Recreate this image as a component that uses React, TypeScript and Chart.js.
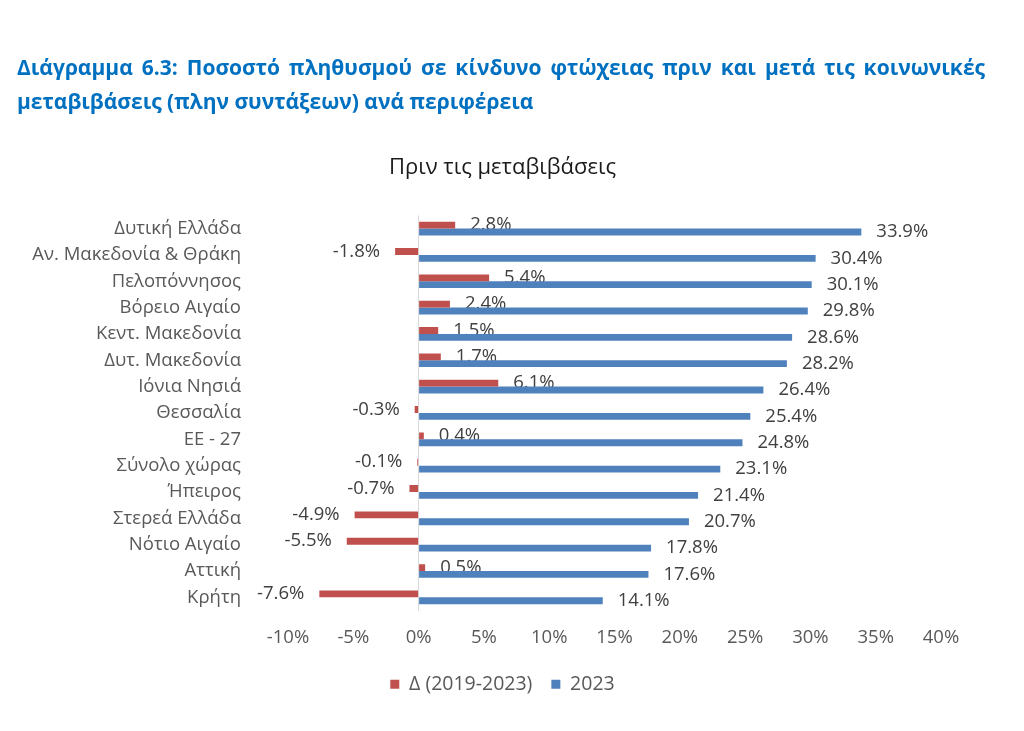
import React, { useEffect, useRef } from 'react';
import { Chart, registerables } from 'chart.js';

Chart.register(...registerables);

const headingLine1 = 'Διάγραμμα 6.3: Ποσοστό πληθυσμού σε κίνδυνο φτώχειας πριν και μετά τις κοινωνικές';
const headingLine2 = 'μεταβιβάσεις (πλην συντάξεων) ανά περιφέρεια';
const chartTitle = 'Πριν τις μεταβιβάσεις';

const categories = [
  'Δυτική Ελλάδα',
  'Αν. Μακεδονία & Θράκη',
  'Πελοπόννησος',
  'Βόρειο Αιγαίο',
  'Κεντ. Μακεδονία',
  'Δυτ. Μακεδονία',
  'Ιόνια Νησιά',
  'Θεσσαλία',
  'ΕΕ - 27',
  'Σύνολο χώρας',
  'Ήπειρος',
  'Στερεά Ελλάδα',
  'Νότιο Αιγαίο',
  'Αττική',
  'Κρήτη',
];

const seriesNames = ['Δ (2019-2023)', '2023'];
const deltaValues = [2.8, -1.8, 5.4, 2.4, 1.5, 1.7, 6.1, -0.3, 0.4, -0.1, -0.7, -4.9, -5.5, 0.5, -7.6];
const values2023 = [33.9, 30.4, 30.1, 29.8, 28.6, 28.2, 26.4, 25.4, 24.8, 23.1, 21.4, 20.7, 17.8, 17.6, 14.1];

const xMin = -10;
const xMax = 40;
const xStep = 5;

const RED = '#C0504D';
const BLUE = '#4F81BD';
const FONT = "'Open Sans', sans-serif";
const LABEL_SIZE = 18.5;

function drawLabels(chart: any, datasetIndex: number) {
  const ctx = chart.ctx;
  const ds = chart.data.datasets[datasetIndex];
  const meta = chart.getDatasetMeta(datasetIndex);
  ctx.save();
  ctx.font = `${LABEL_SIZE}px ${FONT}`;
  ctx.fillStyle = '#404040';
  ctx.textBaseline = 'middle';
  meta.data.forEach((bar: any, i: number) => {
    const v = ds.data[i] as number;
    const txt = v.toFixed(1) + '%';
    if (v >= 0) {
      ctx.textAlign = 'left';
      ctx.fillText(txt, bar.x + 15, bar.y);
    } else {
      ctx.textAlign = 'right';
      ctx.fillText(txt, bar.x - 15, bar.y);
    }
  });
  ctx.restore();
}

const valueLabelPlugin = {
  id: 'valueLabels',
  beforeDatasetsDraw(chart: any) {
    drawLabels(chart, 0);
  },
  afterDatasetsDraw(chart: any) {
    drawLabels(chart, 1);
  },
};

// Centre the title and the legend over the whole figure rather than the plot box
const centreShiftPlugin = {
  id: 'centreShift',
  afterLayout(chart: any) {
    const shift = 32;
    [chart.legend, chart.titleBlock].forEach((b: any) => {
      if (b) {
        b.left += shift;
        b.right += shift;
      }
    });
  },
};

export default function App() {
  const canvasRef = useRef<HTMLCanvasElement>(null);

  useEffect(() => {
    if (!canvasRef.current) return;
    const chart = new Chart(canvasRef.current, {
      type: 'bar',
      data: {
        labels: categories,
        datasets: [
          {
            label: seriesNames[0],
            data: deltaValues,
            backgroundColor: RED,
            borderWidth: 0,
            categoryPercentage: 0.52,
            barPercentage: 1,
          },
          {
            label: seriesNames[1],
            data: values2023,
            backgroundColor: BLUE,
            borderWidth: 0,
            categoryPercentage: 0.52,
            barPercentage: 1,
          },
        ],
      },
      options: {
        indexAxis: 'y',
        responsive: false,
        animation: false,
        devicePixelRatio: 1,
        layout: { padding: { top: 150, left: 0, right: 83, bottom: 27 } },
        scales: {
          x: {
            min: xMin,
            max: xMax,
            border: { display: false },
            grid: {
              drawTicks: false,
              color: (c: any) => (c.tick && c.tick.value === 0 ? '#D9D9D9' : 'rgba(0,0,0,0)'),
              lineWidth: 1,
            },
            ticks: {
              stepSize: xStep,
              padding: 16,
              color: '#595959',
              font: { family: FONT, size: LABEL_SIZE },
              callback: (v: any) => `${v}%`,
            },
            afterFit: (s: any) => {
              s.height = 45;
            },
          },
          y: {
            border: { display: false },
            grid: { display: false, drawTicks: false },
            ticks: {
              padding: 47,
              color: '#595959',
              font: { family: FONT, size: LABEL_SIZE },
            },
            afterFit: (s: any) => {
              s.width = 288;
            },
          },
        },
        plugins: {
          title: {
            display: true,
            text: chartTitle,
            color: '#1a1a1a',
            font: { family: FONT, size: 22, weight: 'normal' },
            padding: { top: 5, bottom: 34 },
          },
          legend: {
            position: 'bottom',
            labels: {
              boxWidth: 9,
              boxHeight: 9,
              padding: 19,
              color: '#595959',
              font: { family: FONT, size: 19.5 },
            },
          },
          tooltip: { enabled: false },
        },
      },
      plugins: [valueLabelPlugin, centreShiftPlugin],
    });
    return () => chart.destroy();
  }, []);

  return (
    <div style={{ position: 'absolute', left: 0, top: 0, width: 1024, height: 731, background: '#fff' }}>
      <canvas ref={canvasRef} width={1024} height={731} style={{ position: 'absolute', left: 0, top: 0 }} />
      <div
        style={{
          position: 'absolute',
          left: 17,
          top: 50,
          width: 968,
          fontFamily: FONT,
          fontWeight: 700,
          fontSize: 21,
          lineHeight: '34px',
          color: '#0070C0',
        }}
      >
        <div style={{ textAlign: 'justify', textAlignLast: 'justify', whiteSpace: 'nowrap' }}>{headingLine1}</div>
        <div style={{ textAlign: 'left' }}>{headingLine2}</div>
      </div>
    </div>
  );
}
